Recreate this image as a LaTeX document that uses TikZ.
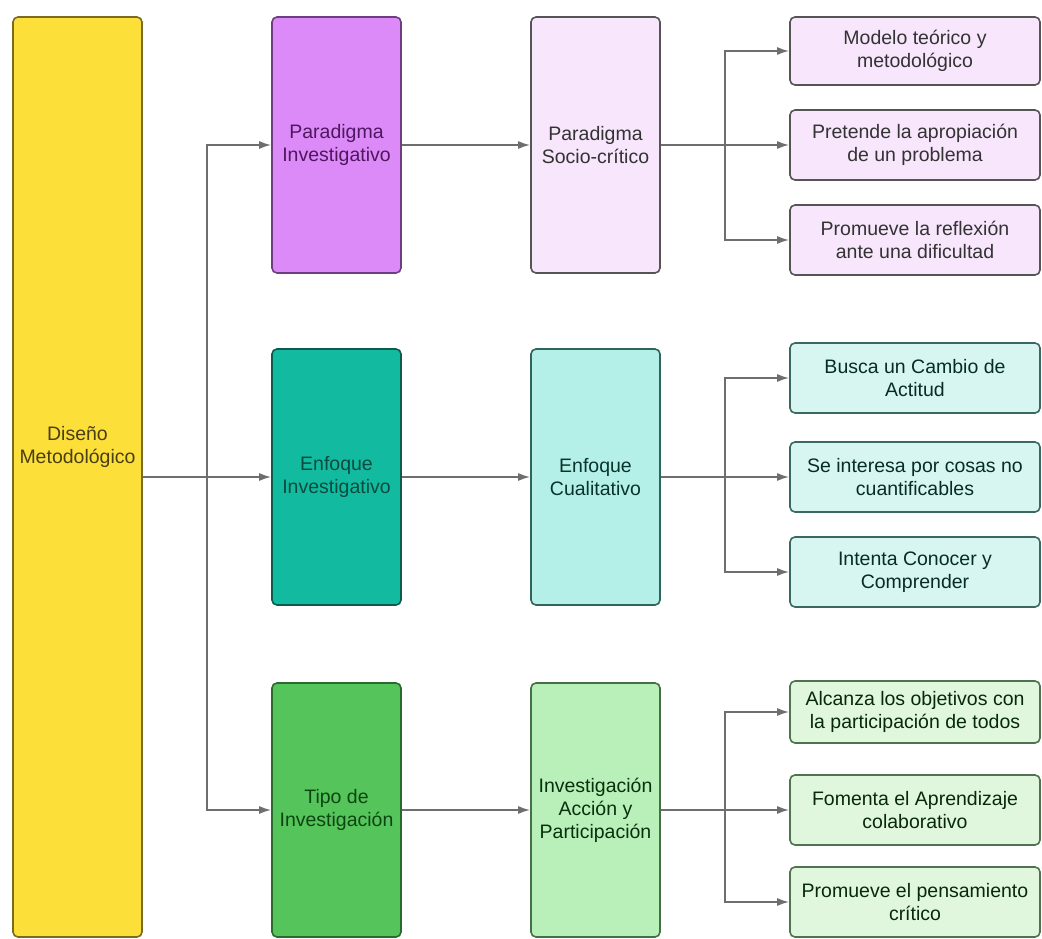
\documentclass[tikz,border=0pt]{standalone}
\usepackage{fontspec}
\setmainfont{Liberation Sans}
\usetikzlibrary{arrows.meta}
\definecolor{amarillo}{HTML}{FDDF3A}
\definecolor{amarilloB}{HTML}{7A6A22}
\definecolor{lila}{HTML}{DC8AF7}
\definecolor{lilaB}{HTML}{6E3F7E}
\definecolor{lilaT}{HTML}{4E1760}
\definecolor{lilaC}{HTML}{F7E6FC}
\definecolor{turq}{HTML}{12BBA0}
\definecolor{turqB}{HTML}{0E5A4C}
\definecolor{turqT}{HTML}{0B4A40}
\definecolor{turqC}{HTML}{B4F0E8}
\definecolor{turqL}{HTML}{D7F6F2}
\definecolor{verde}{HTML}{55C45A}
\definecolor{verdeB}{HTML}{2B6A2E}
\definecolor{verdeT}{HTML}{0C4512}
\definecolor{verdeC}{HTML}{B9F0B9}
\definecolor{verdeL}{HTML}{E0F7DD}
\definecolor{grisB}{HTML}{555555}
\definecolor{linkgray}{HTML}{6E6E6E}

\begin{document}
\begin{tikzpicture}[x=1pt,y=-1pt,
	box/.style={draw, line width=1.6pt, rounded corners=5pt, align=center, inner sep=2pt},
	tall/.style={box, minimum width=129pt, minimum height=256pt},
	leaf/.style={box, minimum width=250pt, minimum height=70pt},
	link/.style={draw=linkgray, line width=1.8pt},
	arr/.style={link, -{Latex[length=12pt,width=8pt]}}]
	\fontsize{19.5}{23}\selectfont
	\useasboundingbox[fill=white] (0,0) rectangle (1042,939);
	\node[box, minimum width=129pt, minimum height=920pt, fill=amarillo, draw=amarilloB,
		label={[yshift=30pt, align=center, text=amarilloB!60!black]center:Diseño\\Metodológico}] (dis) at (77.5,477) {};
	
	\node[tall, fill=lila, draw=lilaB, text=lilaT] (par) at (336.5,145) {Paradigma\\Investigativo};
	\node[tall, fill=turq, draw=turqB, text=turqT] (enf) at (336.5,477) {Enfoque\\Investigativo};
	\node[tall, minimum height=254pt, fill=verde, draw=verdeB, text=verdeT] (tipo) at (336.5,810) {Tipo de\\Investigación};
	
	\node[tall, fill=lilaC, draw=grisB, text=black!80] (soc) at (595.5,145) {Paradigma\\Socio-crítico};
	\node[tall, fill=turqC, draw=turqB!70!gray, text=turqT!70!black] (cual) at (595.5,477) {Enfoque\\Cualitativo};
	\node[tall, minimum height=254pt, fill=verdeC, draw=verdeB!70!gray, text=verdeT!70!black] (iap) at (595.5,810) {Investigación\\Acción y\\Participación};
	
	\node[leaf, minimum height=68pt, fill=lilaC, draw=grisB, text=black!80] (mod) at (915,51) {Modelo teórico y\\metodológico};
	\node[leaf, fill=lilaC, draw=grisB, text=black!80] (pre) at (915,145) {Pretende la apropiación\\de un problema};
	\node[leaf, fill=lilaC, draw=grisB, text=black!80] (ref) at (915,240) {Promueve la reflexión\\ante una dificultad};
	
	\node[leaf, fill=turqL, draw=turqB!60!gray, text=turqT!60!black] (bus) at (915,378) {Busca un Cambio de\\Actitud};
	\node[leaf, fill=turqL, draw=turqB!60!gray, text=turqT!60!black] (int) at (915,477) {Se interesa por cosas no\\cuantificables};
	\node[leaf, fill=turqL, draw=turqB!60!gray, text=turqT!60!black] (con) at (915,572) {Intenta Conocer y\\Comprender};
	
	\node[leaf, minimum height=62pt, fill=verdeL, draw=verdeB!60!gray, text=verdeT!60!black] (alc) at (915,712) {Alcanza los objetivos con\\la participación de todos};
	\node[leaf, fill=verdeL, draw=verdeB!60!gray, text=verdeT!60!black] (fom) at (915,810) {Fomenta el Aprendizaje\\colaborativo};
	\node[leaf, fill=verdeL, draw=verdeB!60!gray, text=verdeT!60!black] (pen) at (915,902) {Promueve el pensamiento\\crítico};
	
	\coordinate (j1) at (207,477);
	\coordinate (j2) at (725,145);
	\coordinate (j3) at (725,477);
	\coordinate (j4) at (725,810);
	
	% del diseño a las tres columnas
	\draw[link] (dis.east) -- (j1);
	\draw[arr] (j1) |- (par.west);
	\draw[arr] (j1) -- (enf.west);
	\draw[arr] (j1) |- (tipo.west);
	
	\draw[arr] (par) -- (soc);
	\draw[arr] (enf) -- (cual);
	\draw[arr] (tipo) -- (iap);
	
	% ramas de la derecha
	\draw[link] (soc.east) -- (j2);
	\draw[arr] (j2) |- (mod.west);
	\draw[arr] (j2) -- (pre.west);
	\draw[arr] (j2) |- (ref.west);
	
	\draw[link] (cual.east) -- (j3);
	\draw[arr] (j3) |- (bus.west);
	\draw[arr] (j3) -- (int.west);
	\draw[arr] (j3) |- (con.west);
	
	\draw[link] (iap.east) -- (j4);
	\draw[arr] (j4) |- (alc.west);
	\draw[arr] (j4) -- (fom.west);
	\draw[arr] (j4) |- (pen.west);
\end{tikzpicture}
\end{document}
